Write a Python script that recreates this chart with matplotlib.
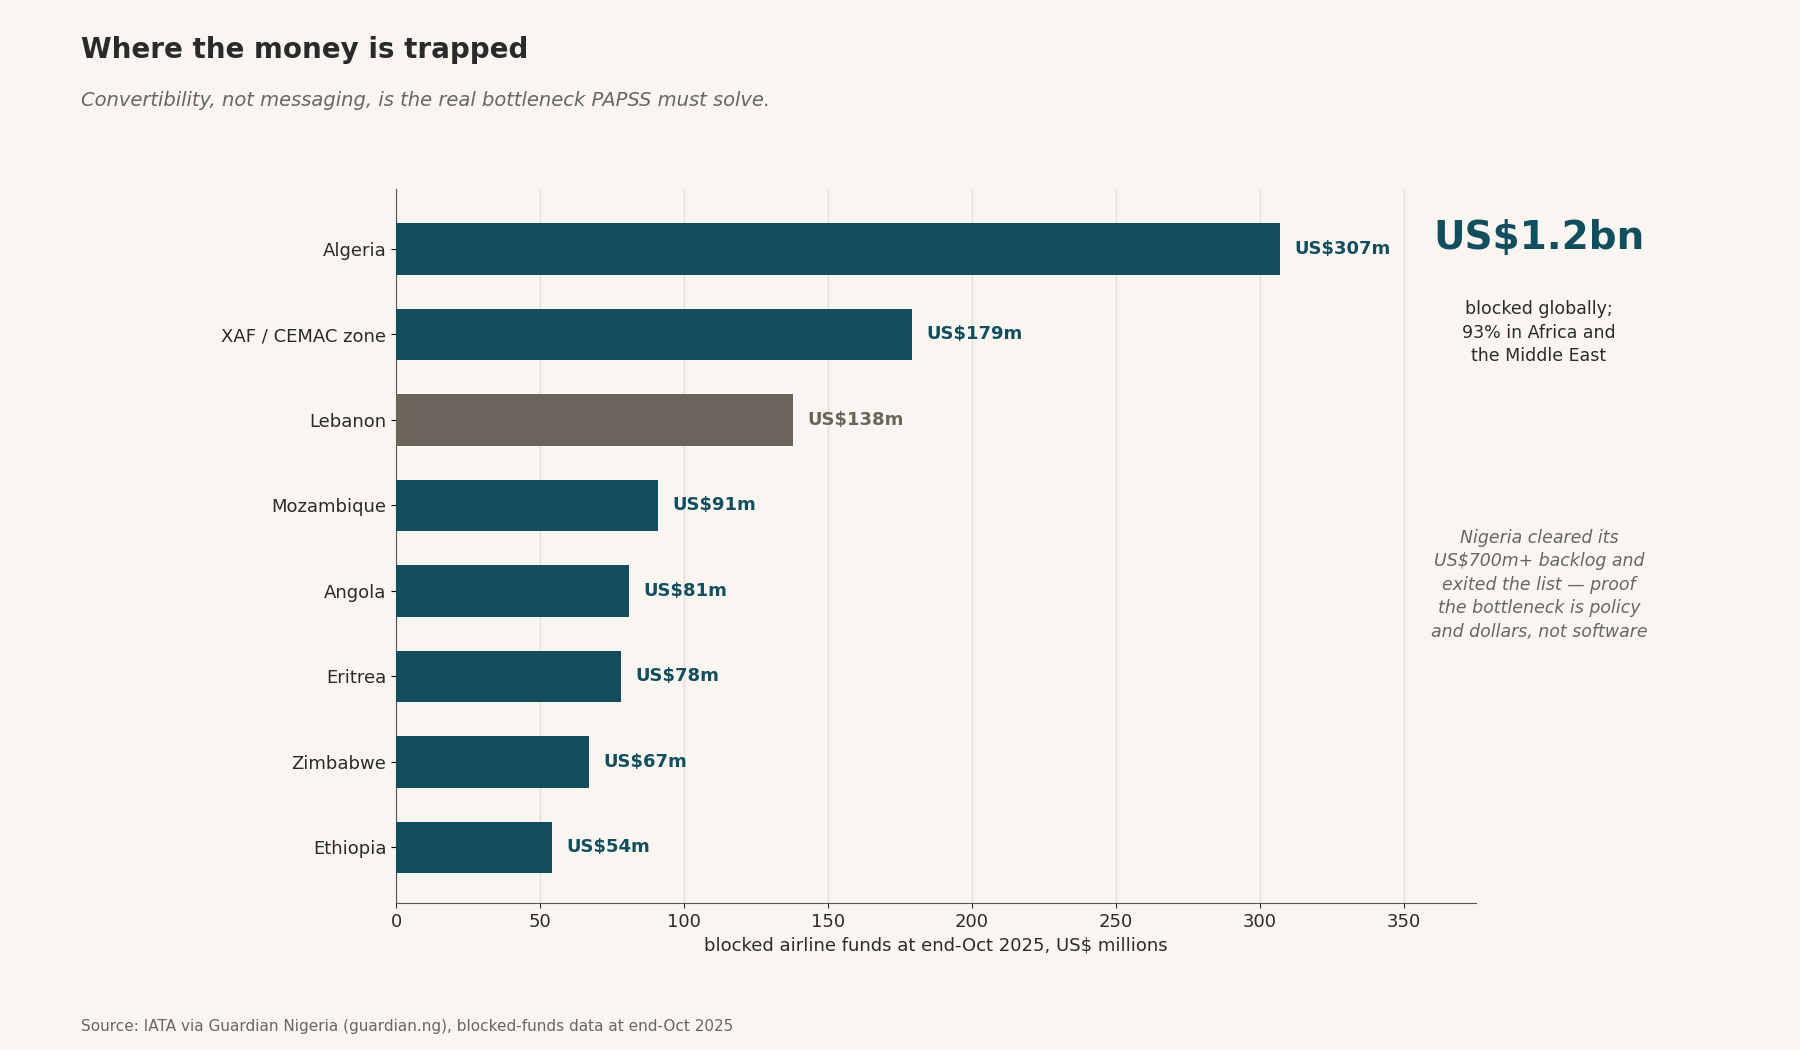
import matplotlib
matplotlib.use('Agg')
import matplotlib.pyplot as plt

# Data
countries = ["Algeria", "XAF / CEMAC zone", "Lebanon", "Mozambique",
             "Angola", "Eritrea", "Zimbabwe", "Ethiopia"]
blocked = [307, 179, 138, 91, 81, 78, 67, 54]
highlight = ["Lebanon"]
xticks = [0, 50, 100, 150, 200, 250, 300, 350]

BG = '#f9f6f2'
TEAL = '#134e5e'
GREY = '#6b645a'
TEXT = '#2a2a2a'
MUTED = '#666666'

fig = plt.figure(figsize=(18, 10.5), dpi=100, facecolor=BG)
ax = fig.add_axes([0.22, 0.14, 0.6, 0.68], facecolor=BG)

colors = [GREY if c in highlight else TEAL for c in countries]
ypos = list(range(len(countries)))
ax.barh(ypos, blocked, height=0.6, color=colors, zorder=3)
for y, v, c in zip(ypos, blocked, colors):
    ax.text(v + 5, y, f"US${v}m", va='center', ha='left', fontsize=13,
            fontweight='bold', color=c, zorder=4)

ax.set_yticks(ypos)
ax.set_yticklabels(countries, fontsize=13, color=TEXT)
ax.invert_yaxis()
ax.set_ylim(len(countries) - 0.35, -0.7)
ax.set_xlim(0, 375)
ax.set_xticks(xticks)
ax.tick_params(axis='x', labelsize=13, colors=TEXT)
ax.set_xlabel("blocked airline funds at end-Oct 2025, US$ millions",
              fontsize=13, color=TEXT)
ax.grid(axis='x', color='#e2ddd6', linewidth=1, zorder=0)
for s in ['top', 'right']:
    ax.spines[s].set_visible(False)
for s in ['left', 'bottom']:
    ax.spines[s].set_color('#555555')

fig.text(0.045, 0.952, "Where the money is trapped", fontsize=20,
         fontweight='bold', color=TEXT, va='center')
fig.text(0.045, 0.904,
         "Convertibility, not messaging, is the real bottleneck PAPSS must solve.",
         fontsize=14, style='italic', color=MUTED, va='center')
fig.text(0.045, 0.022,
         "Source: IATA via Guardian Nigeria (guardian.ng), blocked-funds data at end-Oct 2025",
         fontsize=11, color=MUTED, va='center')

fig.text(0.855, 0.773, "US$1.2bn", fontsize=28, fontweight='bold',
         color=TEAL, ha='center', va='center')
fig.text(0.855, 0.683, "blocked globally;\n93% in Africa and\nthe Middle East",
         fontsize=12.5, color=TEXT, ha='center', va='center', linespacing=1.4)
fig.text(0.855, 0.443,
         "Nigeria cleared its\nUS$700m+ backlog and\nexited the list — proof\n"
         "the bottleneck is policy\nand dollars, not software",
         fontsize=12.5, style='italic', color=MUTED, ha='center', va='center',
         linespacing=1.4)

fig.savefig('out.png', dpi=100, facecolor=BG)
